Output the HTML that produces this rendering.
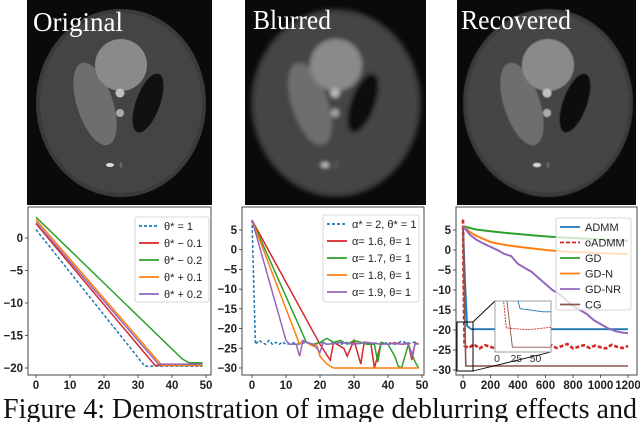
<!DOCTYPE html>
<html><head><meta charset="utf-8"><style>
body{margin:0;background:#fff}
svg text{font-family:"Liberation Sans",sans-serif}
.tk{font-size:11.5px;font-weight:bold;fill:#222}
.lg{font-size:11px;fill:#222}
</style></head><body>
<svg id="fig" width="640" height="422" viewBox="0 0 640 422" xmlns="http://www.w3.org/2000/svg">
<defs>
<filter id="blur1"><feGaussianBlur stdDeviation="2.2"/></filter>
<filter id="blur2"><feGaussianBlur stdDeviation="0.6"/></filter>
<clipPath id="c3lab"><rect x="433" y="200" width="30" height="190"/></clipPath>
<g id="phantom">
<ellipse cx="121" cy="103" rx="85" ry="94" fill="#3a3a3a"/>
<ellipse cx="121" cy="103" rx="81" ry="90" fill="#444"/>
<ellipse cx="95" cy="104" rx="18" ry="43" transform="rotate(-18 95 104)" fill="#6e6e6e"/>
<circle cx="121" cy="65" r="26" fill="#8a8a8a"/>
<ellipse cx="148" cy="103" rx="12" ry="31" transform="rotate(20 148 103)" fill="#111"/>
<circle cx="120" cy="93" r="4.5" fill="#c0c0c0"/>
<circle cx="120" cy="113" r="4" fill="#aaa"/>
<ellipse cx="110" cy="165" rx="4" ry="2" fill="#ddd"/>
<ellipse cx="121" cy="165" rx="1.5" ry="3" fill="#666"/>
</g>
</defs>

<g>
<rect x="27" y="0" width="185" height="205" fill="#0a0a0a"/>
<use href="#phantom"/>
<text x="33" y="31" font-size="27" fill="#fff" textLength="90" lengthAdjust="spacingAndGlyphs" style="font-family:'Liberation Serif',serif">Original</text>
</g>
<g>
<rect x="245" y="0" width="181" height="205" fill="#0a0a0a"/>
<use href="#phantom" transform="translate(215 0)" filter="url(#blur1)"/>
<text x="253" y="29" font-size="27" fill="#fff" textLength="78" lengthAdjust="spacingAndGlyphs" style="font-family:'Liberation Serif',serif">Blurred</text>
</g>
<g>
<rect x="457" y="0" width="179" height="205" fill="#0a0a0a"/>
<use href="#phantom" transform="translate(427 0)" filter="url(#blur2)"/>
<text x="461" y="29" font-size="27" fill="#fff" textLength="110" lengthAdjust="spacingAndGlyphs" style="font-family:'Liberation Serif',serif">Recovered</text>
</g>

<g id="charts"></g>

<text x="3" y="418" font-size="28" fill="#111" textLength="634" lengthAdjust="spacingAndGlyphs" style="font-family:'Liberation Serif',serif">Figure 4: Demonstration of image deblurring effects and</text>
</svg>
<script>
// ---- Chart 1 data (theta perturbation) ----
const c1XTicks = [0,10,20,30,40,50];
const c1YTicks = [0,-5,-10,-15,-20];
const c1Names = ["θ* = 1","θ* − 0.1","θ* − 0.2","θ* + 0.1","θ* + 0.2"];
const c1X = [[0,32,49],[0,35,49],[0,43,45,49],[0,37,49],[0,36,49]];
const c1Y = [[1.3,-19.7,-19.7],[2.2,-19.6,-19.6],[3.2,-18.6,-19.2,-19.2],[2.8,-19.6,-19.6],[2.4,-19.4,-19.4]];
// ---- Chart 2 data (alpha perturbation) ----
const c2XTicks = [0,10,20,30,40,50];
const c2YTicks = [5,0,-5,-10,-15,-20,-25,-30];
const c2Names = ["α* = 2, θ* = 1","α= 1.6, θ= 1","α= 1.7, θ= 1","α= 1.8, θ= 1","α= 1.9, θ= 1"];
const c2X = [
 [0,1,2,3,4,5,6,7,8,9,10,12,14,16,18,20,22,24,26,28,30,32,34,36,38,40,42,44,46,48,49],
 [0,20,23,24,25,27,28,30,32,33,35,36,38,40,42,44,46,47,48,49],
 [0,16,18,20,22,24,26,28,30,32,34,36,37,38,40,42,43,44,46,48,49],
 [0,14,15,16,17,18,19,20,22,24,30,40,49],
 [0,10,11,12,13,14,15,16,18,20,21,22,24,26,30,34,38,42,44,46,47,48,49]];
const c2Y = [
 [7.5,-24,-23,-23.5,-24,-23,-24,-23.5,-24,-23.4,-24,-23.6,-24,-23.4,-24,-23.5,-24,-23.6,-24,-23.5,-23.9,-23.5,-24,-23.6,-24,-23.5,-24,-23.2,-23.8,-23.4,-24],
 [7.5,-24,-28,-23.5,-24,-25,-27,-23,-29,-23.4,-24,-30,-23.5,-24,-23.6,-24,-23.8,-28,-23.6,-24],
 [7.5,-23.5,-24,-23.5,-22.5,-23.5,-23,-24,-23,-23.5,-24,-24,-28.5,-23.5,-24,-27,-29.5,-30,-24,-28.5,-30],
 [7.5,-24,-23,-23.5,-24,-24.5,-24,-27,-29,-30,-30,-30,-30],
 [7.5,-23,-24,-24,-24,-27,-23,-23.5,-24,-26,-23.5,-24,-23.8,-23.5,-24,-23.5,-24,-23.8,-24,-23.6,-27,-23.8,-24]];
// ---- Chart 3 data (algorithm comparison) ----
const c3XTicks = [0,200,400,600,800,1000,1200];
const c3XTickLabels = ["0","200","400","600","800","1000","1200"];
const c3YTicks = [5,0,-5,-10,-15,-20,-25,-30];
const c3Names = ["ADMM","oADMM","GD","GD-N","GD-NR","CG"];
const c3X = [
 [0,15,30,60,1200],
 [0,5,12,40,80,120,160,200,240,280,320,360,400,440,480,520,560,600,640,680,720,760,800,840,880,920,960,1000,1040,1080,1120,1160,1200],
 [0,50,100,200,300,400,500,600,700,800,900,1000,1100,1200],
 [0,50,100,200,300,400,500,600,700,800,900,1000,1100,1200],
 [0,50,100,150,200,250,300,350,400,450,500,550,600,650,700,750,800,850,900,950,1000,1050,1100,1150,1200],
 [0,10,20,1200]];
const c3Y = [
 [6,-8,-19,-19.8,-19.8],
 [7.6,-10,-24,-24.5,-23.6,-24.6,-23.8,-24.2,-24.7,-23.5,-24.3,-24.8,-23.7,-24.4,-24,-23.6,-24.6,-24.1,-23.8,-24.5,-24,-23.5,-24.6,-24.2,-23.8,-24.5,-23.9,-24.3,-24.6,-23.7,-24.2,-24.5,-24],
 [6,5.5,5.1,4.7,4.3,4,3.7,3.4,3.2,3,2.8,2.6,2.5,2.3],
 [6,4.5,3.5,2,1.3,0.8,0.4,0,-0.3,-0.5,-0.6,-0.8,-0.9,-1],
 [6,3.8,2.5,1.6,0.8,0,-1,-1.5,-3.5,-4.5,-5.5,-7,-8.5,-10,-11,-12.5,-14,-15,-16,-17.5,-18.5,-19.5,-20.2,-20.6,-20.8],
 [5.5,-12,-29,-29]];
const insXTicks = [0,25,50];

const colors5 = ["#1f77b4","#d62728","#2ca02c","#ff7f0e","#9467bd"];
const colors6 = ["#1f77b4","#d62728","#2ca02c","#ff7f0e","#9467bd","#8c564b"];
const NS = "http://www.w3.org/2000/svg";
const root = document.getElementById('charts');
function mk(tag, attrs, parent){const e=document.createElementNS(NS,tag);for(const k in attrs)e.setAttribute(k,attrs[k]);(parent||root).appendChild(e);return e;}
function lin(d0,d1,r0,r1){return v=>r0+(v-d0)*(r1-r0)/(d1-d0);}

function chart(cfg){
 const g=mk('g',{});
 
 
 const sx=cfg.sx, sy=cfg.sy;
 const fr=mk('rect',{x:cfg.fx,y:cfg.fy,width:cfg.fw,height:cfg.fh,fill:'#fff',stroke:'#333','stroke-width':0.9},g);
 
 
 cfg.xt.forEach((t,i)=>{
  const x=sx(t);
  mk('line',{x1:x,x2:x,y1:cfg.fy+cfg.fh,y2:cfg.fy+cfg.fh+3,stroke:'#333','stroke-width':0.8},g);
  const tx=mk('text',{x:x,y:cfg.fy+cfg.fh+14,'text-anchor':'middle',class:'tk'},g);
  tx.textContent=cfg.xl?cfg.xl[i]:String(t);
  
  
 });
 const yg=mk('g',cfg.yclip?{'clip-path':'url(#c3lab)'}:{},g);
 cfg.yt.forEach(t=>{
  const y=sy(t);
  mk('line',{x1:cfg.fx-3,x2:cfg.fx,y1:y,y2:y,stroke:'#333','stroke-width':0.8},g);
  const tx=mk('text',{x:cfg.fx-5,y:y+4,'text-anchor':'end',class:'tk'},yg);
  tx.textContent=String(t).replace('-','−');
  
  
 });
 const cl='cl'+cfg.name;
 const cp=mk('clipPath',{id:cl},g); mk('rect',{x:cfg.fx,y:cfg.fy,width:cfg.fw,height:cfg.fh},cp);
 const lg=mk('g',{'clip-path':'url(#'+cl+')'},g);
 cfg.X.forEach((xs,i)=>{
  const d=xs.map((x,j)=>(j?'L':'M')+sx(x).toFixed(1)+' '+sy(cfg.Y[i][j]).toFixed(1)).join(' ');
  const p=mk('path',{d:d,fill:'none',stroke:cfg.colors[i],'stroke-width':cfg.sw?cfg.sw[i]:1.5},lg);
  if(cfg.dash&&cfg.dash[i])p.setAttribute('stroke-dasharray',cfg.dash[i]);
  
  
 });
 return {g,lg};
}
function legend(g,x,y,w,h,names,cols,dash,rowH,opacity){
 const lgd=mk('g',{},g);
 
 
 mk('rect',{x:x,y:y,width:w,height:h,rx:2,fill:'#fff','fill-opacity':opacity,stroke:'#ccc','stroke-width':0.8},lgd);
 names.forEach((n,i)=>{
  const yy=y+9+i*rowH;
  const ln=mk('line',{x1:x+4,x2:x+24,y1:yy,y2:yy,stroke:cols[i],'stroke-width':1.8},lgd);
  if(dash[i])ln.setAttribute('stroke-dasharray',dash[i]);
  const t=mk('text',{x:x+29,y:yy+4,class:'lg'},lgd);
  t.textContent=n;
  
  
 });
}
const ch1=chart({name:'theta-chart',fx:28,fy:207,fw:183,fh:168,sx:lin(0,50,36,206),sy:lin(0,-20,238,368),xt:c1XTicks,yt:c1YTicks,X:c1X,Y:c1Y,colors:colors5,dash:['3,2']});
legend(ch1.g,135,217,74,85,c1Names,colors5,['3,2'],17,0.9);
const ch2=chart({name:'alpha-chart',fx:242,fy:207,fw:182,fh:168,sx:lin(0,50,252,422),sy:lin(5,-30,230,368),xt:c2XTicks,yt:c2YTicks,X:c2X,Y:c2Y,colors:colors5,dash:['3,2']});
legend(ch2.g,323,215,96,87,c2Names,colors5,['3,2'],17,0.9);
const s3x=lin(0,1200,463,628), s3y=lin(5,-30,230,370);
const ch3=chart({name:'algorithm-chart',fx:456,fy:207,fw:181,fh:168,sx:s3x,sy:s3y,xt:c3XTicks,xl:c3XTickLabels,yt:c3YTicks,yclip:true,X:c3X,Y:c3Y,colors:colors6,dash:[null,'4,2'],sw:[1.8,2.6,2,2,2,1.6]});
legend(ch3.g,556,218,75,92,c3Names,colors6,[null,'4,2'],15.5,0.75);
const ig=mk('g',{},ch3.g);


mk('rect',{x:457,y:322,width:16,height:49,fill:'none',stroke:'#000','stroke-width':1},ig);
mk('line',{x1:473,y1:322,x2:495,y2:301,stroke:'#000','stroke-width':0.9},ig);
mk('line',{x1:473,y1:371,x2:551,y2:352,stroke:'#000','stroke-width':0.9},ig);
mk('rect',{x:495,y:301,width:56,height:51,fill:'#fff',stroke:'#888','stroke-width':0.8},ig);
const ix=lin(0,70,497,551), iy=lin(-17,-30,301,351);
const icp=mk('clipPath',{id:'insclip'},ig); mk('rect',{x:495,y:301,width:56,height:51},icp);
const il=mk('g',{'clip-path':'url(#insclip)'},ig);
[0,1,5].forEach(i=>{
 const xs=c3X[i].filter(v=>v<=80);
 const last={0:-19.8,1:-24,5:-29}[i];
 const d=xs.map((x,j)=>(j?'L':'M')+ix(x).toFixed(1)+' '+iy(c3Y[i][j]).toFixed(1)).join(' ')+' L'+ix(80)+' '+iy(last);
 const p=mk('path',{d:d,fill:'none',stroke:colors6[i],'stroke-width':0.9},il);
 if(i===1)p.setAttribute('stroke-dasharray','2,1');
 
 
});
insXTicks.forEach(t=>{
 const tx=mk('text',{x:ix(t),y:362,'text-anchor':'middle',style:'font-size:10.5px;fill:#333'},ig);
 tx.textContent=String(t);
 
 
});
</script>
</body></html>
